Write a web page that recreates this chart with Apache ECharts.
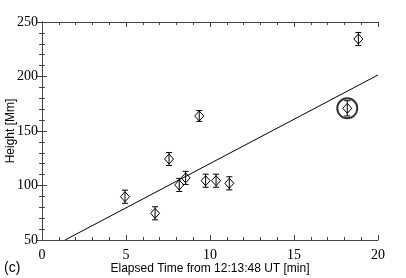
<!DOCTYPE html>
<html><head><meta charset="utf-8">
<script src="https://cdn.jsdelivr.net/npm/echarts@6/dist/echarts.min.js"></script>
<style>html,body{margin:0;padding:0;background:#fff}#c{width:406px;height:278px}</style>
</head><body><div id="c"></div>
<script>
var timeMin = [4.94, 6.73, 7.56, 8.17, 8.55, 9.36, 9.74, 10.36, 11.15, 18.17, 18.83];
var heightMm = [89.7, 74.5, 124.3, 100.5, 107, 163.8, 104.4, 104.4, 102, 170.8, 234.4];
var heightErr = [6, 6, 6, 6, 6, 5, 6, 6, 6, 7, 6];
var circledIndex = [9];
var fitLine = [[1.37, 50], [20, 201.4]];
var xTicks = [0, 5, 10, 15, 20];
var yTicks = [50, 100, 150, 200, 250];

var pts = timeMin.map(function (x, i) { return [x, heightMm[i], heightErr[i]]; });
var circled = circledIndex.map(function (i) { return [timeMin[i], heightMm[i]]; });

var axCol = '#444';
function mkX(pos, show) {
  return {
    type: 'value', position: pos, min: xTicks[0], max: xTicks[xTicks.length - 1], interval: 5,
    axisLine: { show: true, lineStyle: { color: axCol, width: 1 } },
    axisTick: { show: true, inside: true, length: 5, lineStyle: { color: axCol } },
    minorTick: { show: true, splitNumber: 5, length: 3, lineStyle: { color: axCol } },
    splitLine: { show: false },
    axisLabel: { show: show, fontFamily: 'Liberation Serif', fontSize: 14, color: '#000', margin: 8 },
    name: show ? 'Elapsed Time from 12:13:48 UT [min]' : '', nameLocation: 'middle', nameGap: 23,
    nameMoveOverlap: false,
    nameTextStyle: { fontFamily: 'Liberation Sans', fontSize: 12, color: '#000' }
  };
}
function mkY(pos, show) {
  return {
    type: 'value', position: pos, min: yTicks[0], max: yTicks[yTicks.length - 1], interval: 50,
    axisLine: { show: true, lineStyle: { color: axCol, width: 1 } },
    axisTick: { show: true, inside: true, length: 5, lineStyle: { color: axCol } },
    minorTick: { show: true, splitNumber: 5, length: 3, lineStyle: { color: axCol } },
    splitLine: { show: false },
    axisLabel: { show: show, fontFamily: 'Liberation Serif', fontSize: 14, color: '#000', margin: 4 },
    name: show ? 'Height [Mm]' : '', nameLocation: 'middle', nameGap: 25,
    nameMoveOverlap: false,
    nameTextStyle: { fontFamily: 'Liberation Sans', fontSize: 12, color: '#000' }
  };
}

var chart = echarts.init(document.getElementById('c'), null, { renderer: 'canvas' });
chart.setOption({
  animation: false,
  grid: { left: 42, right: 28, top: 22, bottom: 38, containLabel: false, outerBoundsMode: 'none' },
  xAxis: [mkX('bottom', true), mkX('top', false)],
  yAxis: [mkY('left', true), mkY('right', false)],
  graphic: [{ type: 'text', left: 4, top: 261, style: { text: '(c)', fontFamily: 'Liberation Sans', fontSize: 14, fill: '#000' } }],
  series: [
    {
      type: 'line', data: fitLine, symbol: 'none', clip: true,
      lineStyle: { color: '#000', width: 1 }
    },
    {
      type: 'custom', data: pts, clip: false,
      renderItem: function (params, api) {
        var x = api.value(0), y = api.value(1), e = api.value(2);
        var c = api.coord([x, y]);
        var t = api.coord([x, y + e]);
        var b = api.coord([x, y - e]);
        var cw = 3, w = 4.5, h = 5;
        var st = { stroke: '#000', lineWidth: 1, fill: null };
        return {
          type: 'group', children: [
            { type: 'line', shape: { x1: c[0], y1: t[1], x2: c[0], y2: b[1] }, style: st },
            { type: 'line', shape: { x1: c[0] - cw, y1: t[1], x2: c[0] + cw, y2: t[1] }, style: st },
            { type: 'line', shape: { x1: c[0] - cw, y1: b[1], x2: c[0] + cw, y2: b[1] }, style: st },
            { type: 'polygon', shape: { points: [[c[0], c[1] - h], [c[0] + w, c[1]], [c[0], c[1] + h], [c[0] - w, c[1]]] }, style: { stroke: '#000', lineWidth: 1, fill: 'none' } }
          ]
        };
      }
    },
    {
      type: 'scatter', data: circled, symbol: 'circle', symbolSize: 20,
      itemStyle: { color: 'rgba(0,0,0,0)', borderColor: '#000', borderWidth: 2 }
    }
  ]
});
</script></body></html>
